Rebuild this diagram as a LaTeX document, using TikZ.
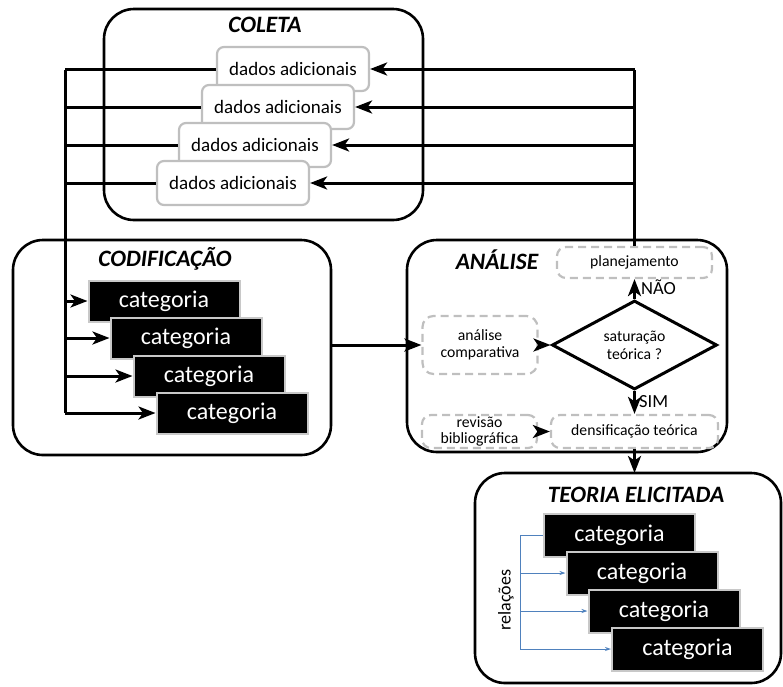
\documentclass[tikz,border=0pt]{standalone}
\usepackage{fontspec}
\setmainfont{Carlito}
\usetikzlibrary{shapes.geometric,arrows.meta}
\definecolor{boxgray}{HTML}{BFBFBF}
\definecolor{catgray}{HTML}{C8C8C8}
\definecolor{relblue}{HTML}{4F81BD}
\begin{document}
\begin{tikzpicture}[x=1pt,y=-1pt,
  stage/.style={draw=black, line width=2.6pt, rounded corners=30pt, inner sep=0pt, outer sep=0pt},
  title/.style={font=\fontsize{23.5}{28}\selectfont\bfseries\itshape, inner sep=0pt},
  dados/.style={draw=boxgray, fill=white, line width=2.2pt, rounded corners=7pt,
    minimum width=152pt, minimum height=44pt, inner sep=0pt, font=\fontsize{19}{23}\selectfont},
  cat/.style={draw=catgray, fill=black, line width=2pt, minimum width=151pt,
    minimum height=41pt, inner sep=0pt, text=white, font=\fontsize{24}{28}\selectfont},
  dashbox/.style={draw=boxgray, dash pattern=on 8pt off 5pt, line width=2.2pt, rounded corners=9pt,
    inner sep=0pt, align=center, font=\fontsize{15.7}{17}\selectfont},
  flow/.style={line width=3pt, -{Stealth[length=17pt,width=13pt,inset=4.5pt]}},
  plain/.style={line width=3pt},
  rel/.style={draw=relblue, line width=1pt},
  relarrow/.style={rel, -{Stealth[length=6pt,width=4pt]}},
  lbl/.style={font=\fontsize{18.5}{22}\selectfont, inner sep=0pt, anchor=west}
]
\useasboundingbox (0,0) rectangle (783,686);

% stage frames
\node[stage, minimum width=319pt, minimum height=211pt] (coleta) at (263.5,114.5) {};
\node[stage, minimum width=318pt, minimum height=215pt] (codif) at (172,347.5) {};
\node[stage, minimum width=320pt, minimum height=212pt] (analise) at (567,346) {};
\node[stage, minimum width=306pt, minimum height=210pt] (teoria) at (628,578) {};

\node[title] (tcoleta) at (265,25) {COLETA};
\node[title] (tcodif) at (165,259) {CODIFICAÇÃO};
\node[title] (tanalise) at (497,260) {ANÁLISE};
\node[title] (tteoria) at (636,495) {TEORIA ELICITADA};

% collected data
\node[dados] (d1) at (293,69) {dados adicionais};
\node[dados] (d2) at (278,107) {dados adicionais};
\node[dados] (d3) at (255,145) {dados adicionais};
\node[dados] (d4) at (233,183) {dados adicionais};

% coding categories
\node[cat] (c1) at (164,301) {categoria};
\node[cat] (c2) at (186,338) {categoria};
\node[cat] (c3) at (209,376) {categoria};
\node[cat] (c4) at (232,413) {categoria};

% analysis
\node[dashbox, minimum width=155pt, minimum height=31pt] (plan) at (634.5,262.5) {planejamento};
\node[dashbox, minimum width=115pt, minimum height=58pt, rounded corners=11pt] (comp) at (480,345) {análise\\comparativa};
\node[draw=black, line width=3pt, diamond, aspect=1.85, minimum width=165pt, minimum height=89pt,
  inner sep=0pt, align=center, font=\fontsize{15.7}{18}\selectfont] (sat) at (634.5,345) {saturação\\teórica ?};
\node[dashbox, minimum width=115pt, minimum height=33pt, font=\fontsize{15.7}{16}\selectfont] (rev) at (479.5,431.5) {revisão\\bibliográfica};
\node[dashbox, minimum width=167pt, minimum height=33pt] (dens) at (634.5,431.5) {densificação teórica};

% elicited theory
\node[cat, minimum height=43pt] (t1) at (619.5,535) {categoria};
\node[cat, minimum height=43pt] (t2) at (642,573) {categoria};
\node[cat, minimum height=43pt] (t3) at (664,611) {categoria};
\node[cat, minimum height=43pt] (t4) at (687.5,649) {categoria};

% feedback loop: planning -> data -> categories
\coordinate (rtop) at (634.5,70);
\coordinate (ltop) at (65,70);
\coordinate (lbot) at (65,413);
\draw[plain] (plan.north) -- (rtop);
\foreach \d in {d1,d2,d3,d4}{
  \draw[flow] (rtop |- \d.east) -- (\d.east);
  \draw[plain] (\d.west) -- (ltop |- \d.west);
}
\draw[plain] (ltop) -- (lbot);
\foreach \c in {c1,c2,c3,c4}{
  \draw[flow] (ltop |- \c.west) -- (\c.west);
}

% coding -> analysis
\coordinate (cout) at (codif.east |- comp.west);
\draw[flow] (cout) -- (comp.west);
\draw[flow] (comp.east) -- (sat.west);
\draw[flow] (sat.north) -- (plan.south);
\draw[flow] (sat.south) -- (dens.north);
\draw[flow] (rev.east) -- (dens.west);
\draw[flow] (dens.south) -- (dens.south |- teoria.north);
\node[lbl] (nao) at (641,287) {NÃO};
\node[lbl] (sim) at (639,402) {SIM};

% relations
\coordinate (btop) at (520,535);
\coordinate (bbot) at (520,649);
\draw[rel] (btop) -- (bbot);
\draw[rel] (btop) -- (btop -| t1.west);
\foreach \t in {t2,t3,t4}{
  \draw[relarrow] (btop |- \t.west) -- (\t.west);
}
\node[rotate=90, font=\fontsize{18}{20}\selectfont, inner sep=0pt] (rel) at (506,600) {relações};
\end{tikzpicture}
\end{document}
